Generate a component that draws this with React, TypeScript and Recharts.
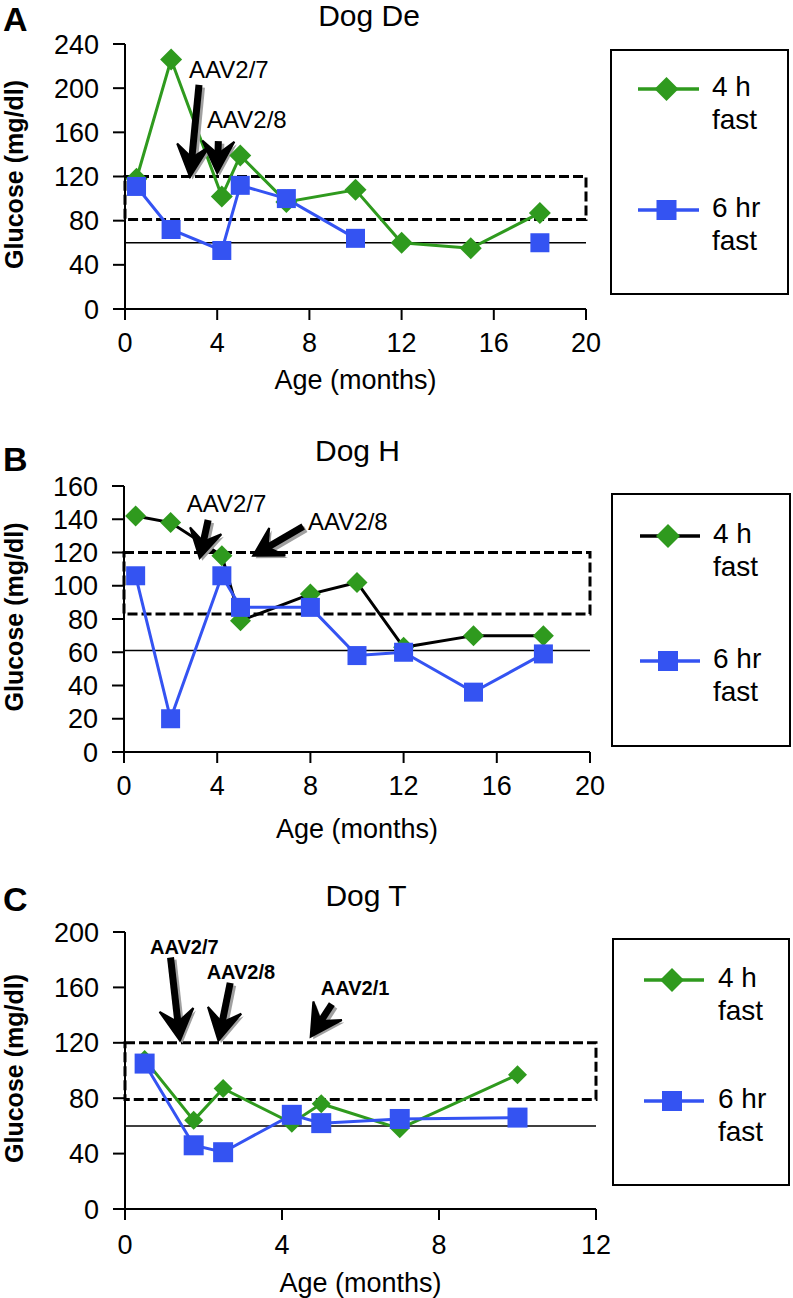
import React from 'react';
import {
  LineChart,
  Line,
  XAxis,
  YAxis,
  ReferenceLine,
  ReferenceArea,
  ReferenceDot,
  Legend,
  Label,
} from 'recharts';

const GREEN = '#2f9a1e';
const BLUE = '#3453f2';
const FONT = '"Liberation Sans", Arial, Helvetica, sans-serif';

// ---------- Panel A: Dog De ----------
const agesA = [0.5, 2, 4.2, 5, 7, 10, 12, 15, 18];
const fast4hA = [118, 226, 102, 139, 97, 108, 60, 55, 87];
const fast6hA: (number | null)[] = [111, 72, 53, 112, 100, 64, null, null, 60];
const xTicksA = [0, 4, 8, 12, 16, 20];
const yTicksA = [0, 40, 80, 120, 160, 200, 240];
const bandA = [81, 120];
const hypoA = 60;
const arrowsA = [
  { label: 'AAV2/7', tail: [3.21, 203], head: [2.82, 119.6], text: [2.78, 209] },
  { label: 'AAV2/8', tail: [4.05, 152], head: [4.0, 123], text: [3.56, 164] },
];

// ---------- Panel B: Dog H ----------
const agesB = [0.5, 2, 4.2, 5, 8, 10, 12, 15, 18];
const fast4hB = [142, 138, 118, 79, 95, 102, 63, 70, 70];
const fast6hB = [106, 20, 106, 87, 87, 58, 60, 36, 59];
const xTicksB = [0, 4, 8, 12, 16, 20];
const yTicksB = [0, 20, 40, 60, 80, 100, 120, 140, 160];
const bandB = [83, 120];
const hypoB = 61;
const arrowsB = [
  { label: 'AAV2/7', tail: [3.61, 139.6], head: [3.25, 116.6], text: [2.69, 144.6] },
  { label: 'AAV2/8', tail: [7.69, 135.6], head: [5.54, 118], text: [7.9, 133.6] },
];

// ---------- Panel C: Dog T ----------
const agesC = [0.5, 1.75, 2.5, 4.25, 5, 7, 10];
const fast4hC = [108, 64, 87, 62, 76, 58, 97];
const fast6hC = [105, 46, 41, 68, 62, 65, 66];
const xTicksC = [0, 4, 8, 12];
const yTicksC = [0, 40, 80, 120, 160, 200];
const bandC = [79, 120];
const hypoC = 60;
const arrowsC = [
  { label: 'AAV2/7', tail: [1.16, 181.6], head: [1.4, 121.5], text: [0.64, 184.4] },
  { label: 'AAV2/8', tail: [2.68, 163.3], head: [2.38, 121.5], text: [2.08, 166.4] },
  { label: 'AAV2/1', tail: [5.27, 147.9], head: [4.73, 124.4], text: [4.99, 154.4] },
];

const seriesNames = { g4: '4 h fast', b6: '6 hr fast' };

function buildRows(ages: number[], a: (number | null)[], b: (number | null)[]) {
  return ages.map((x, i) => ({ x, g4: a[i], b6: b[i] }));
}

const diamondDot = (size: number, fill: string) => (p: any) => {
  const { cx, cy, index } = p;
  if (cx == null || cy == null || Number.isNaN(cx) || Number.isNaN(cy) || p.value == null)
    return <g key={`dd${index}`} />;
  return (
    <path
      key={`dd${index}`}
      d={`M${cx},${cy - size}L${cx + size},${cy}L${cx},${cy + size}L${cx - size},${cy}Z`}
      fill={fill}
    />
  );
};

const squareDot = (size: number, fill: string) => (p: any) => {
  const { cx, cy, index } = p;
  if (cx == null || cy == null || Number.isNaN(cx) || Number.isNaN(cy) || p.value == null)
    return <g key={`sd${index}`} />;
  return <rect key={`sd${index}`} x={cx - size} y={cy - size} width={size * 2} height={size * 2} fill={fill} />;
};

function arrowGeom(x1: number, y1: number, x2: number, y2: number, L: number, W: number) {
  const dx = x2 - x1;
  const dy = y2 - y1;
  const len = Math.hypot(dx, dy) || 1;
  const ux = dx / len;
  const uy = dy / len;
  const nx = -uy;
  const ny = ux;
  const bx = x2 - ux * L;
  const by = y2 - uy * L;
  const mx = x2 - ux * L * 0.6;
  const my = y2 - uy * L * 0.6;
  const head = `M${x2},${y2}L${bx + nx * W},${by + ny * W}L${mx},${my}L${bx - nx * W},${by - ny * W}Z`;
  return { head, mx, my };
}

const arrowShape = (L: number, W: number, sw: number) => (p: any) => {
  const x1 = Number(p.x1);
  const y1 = Number(p.y1);
  const x2 = Number(p.x2);
  const y2 = Number(p.y2);
  const g = arrowGeom(x1, y1, x2, y2, L, W);
  return (
    <g>
      <g transform="translate(2.5,2.5)">
        <line x1={x1} y1={y1} x2={g.mx} y2={g.my} stroke="#a0a0a0" strokeWidth={sw} />
        <path d={g.head} fill="#a0a0a0" />
      </g>
      <line x1={x1} y1={y1} x2={g.mx} y2={g.my} stroke="#000" strokeWidth={sw} />
      <path d={g.head} fill="#000" stroke="#000" strokeWidth={2} strokeLinejoin="miter" />
    </g>
  );
};

type PanelCfg = {
  top: number;
  height: number;
  margin: { top: number; right: number; bottom: number; left: number };
  xDomain: [number, number];
  xTicks: number[];
  yDomain: [number, number];
  yTicks: number[];
  rows: any[];
  band: number[];
  hypo: number;
  line4Color: string;
  arrows: { label: string; tail: number[]; head: number[]; text: number[] }[];
  arrowFont: number;
  arrowBold: boolean;
  arrowSize: [number, number, number];
  diamond: number;
  square: number;
  xTickMargin: number;
  xAxisHeight: number;
  xLabelDy: number;
  title: string;
  titleCenter: number;
  titleTop: number;
  letter: string;
  letterTop: number;
  legend: { left: number; top: number; width: number; height: number; rows: number[]; lx1: number; lx2: number; tx: number };
};

const panels: PanelCfg[] = [
  {
    top: 0,
    height: 420,
    margin: { top: 44, right: 207, bottom: 21, left: 8 },
    xDomain: [0, 20],
    xTicks: xTicksA,
    yDomain: [0, 240],
    yTicks: yTicksA,
    rows: buildRows(agesA, fast4hA, fast6hA),
    band: bandA,
    hypo: hypoA,
    line4Color: GREEN,
    arrows: arrowsA,
    arrowFont: 24,
    arrowBold: false,
    arrowSize: [32, 16, 7],
    diamond: 11,
    square: 9.5,
    xTickMargin: 13,
    xAxisHeight: 90,
    xLabelDy: 80,
    title: 'Dog De',
    titleCenter: 369,
    titleTop: 1,
    letter: 'A',
    letterTop: 2.3,
    legend: { left: 610, top: 49, width: 179, height: 246, rows: [40, 161], lx1: 26, lx2: 87, tx: 102 },
  },
  {
    top: 430,
    height: 420,
    margin: { top: 56, right: 203, bottom: 8, left: 7 },
    xDomain: [0, 20],
    xTicks: xTicksB,
    yDomain: [0, 160],
    yTicks: yTicksB,
    rows: buildRows(agesB, fast4hB, fast6hB),
    band: bandB,
    hypo: hypoB,
    line4Color: '#000000',
    arrows: arrowsB,
    arrowFont: 24,
    arrowBold: false,
    arrowSize: [28, 16, 7],
    diamond: 10.5,
    square: 9.5,
    xTickMargin: 13,
    xAxisHeight: 90,
    xLabelDy: 86,
    title: 'Dog H',
    titleCenter: 357.5,
    titleTop: 436,
    letter: 'B',
    letterTop: 442.3,
    legend: { left: 611, top: 63, width: 180, height: 254, rows: [43, 168], lx1: 27, lx2: 87, tx: 102 },
  },
  {
    top: 860,
    height: 438,
    margin: { top: 72, right: 197, bottom: 4, left: 8 },
    xDomain: [0, 12],
    xTicks: xTicksC,
    yDomain: [0, 200],
    yTicks: yTicksC,
    rows: buildRows(agesC, fast4hC, fast6hC),
    band: bandC,
    hypo: hypoC,
    line4Color: GREEN,
    arrows: arrowsC,
    arrowFont: 20,
    arrowBold: true,
    arrowSize: [31, 17, 7],
    diamond: 9.5,
    square: 10,
    xTickMargin: 15,
    xAxisHeight: 85,
    xLabelDy: 83,
    title: 'Dog T',
    titleCenter: 366,
    titleTop: 881,
    letter: 'C',
    letterTop: 882.3,
    legend: { left: 612, top: 78, width: 178, height: 248, rows: [42, 163], lx1: 30, lx2: 90, tx: 106 },
  },
];

const markerFor: Record<string, { kind: 'diamond' | 'square'; fill: string }> = {
  g4: { kind: 'diamond', fill: GREEN },
  b6: { kind: 'square', fill: BLUE },
};

function makeLegend(cfg: PanelCfg) {
  return (props: any) => {
    const payload = props.payload || [];
    const L = cfg.legend;
    return (
      <div
        style={{
          position: 'relative',
          width: L.width,
          height: L.height,
          border: '2px solid #000',
          boxSizing: 'border-box',
          background: '#fff',
          fontFamily: FONT,
        }}
      >
        {payload.map((entry: any, i: number) => {
          const mk = markerFor[entry.dataKey] || { kind: 'square', fill: entry.color };
          const cy = L.rows[i] - 2;
          const cx = (L.lx1 + L.lx2) / 2 - 2;
          const w = L.lx2 - L.lx1 + 4;
          return (
            <React.Fragment key={String(entry.dataKey)}>
              <svg
                width={w}
                height={30}
                style={{ position: 'absolute', left: L.lx1 - 2, top: cy - 15, overflow: 'visible' }}
              >
                <line x1={2} y1={15} x2={w - 2} y2={15} stroke={entry.color} strokeWidth={3.5} />
                {mk.kind === 'diamond' ? (
                  <path d={`M${cx - L.lx1 + 2},3L${cx - L.lx1 + 14},15L${cx - L.lx1 + 2},27L${cx - L.lx1 - 10},15Z`} fill={mk.fill} />
                ) : (
                  <rect x={cx - L.lx1 + 2 - 10} y={5} width={20} height={20} fill={mk.fill} />
                )}
              </svg>
              <div
                style={{
                  position: 'absolute',
                  left: L.tx - 2,
                  top: cy - 2 - 17,
                  width: 62,
                  fontSize: 28,
                  lineHeight: '33px',
                  color: '#000',
                }}
              >
                {entry.value}
              </div>
            </React.Fragment>
          );
        })}
      </div>
    );
  };
}

function Panel({ cfg }: { cfg: PanelCfg }) {
  const [aL, aW, aSW] = cfg.arrowSize;
  return (
    <>
      <div
        style={{
          position: 'absolute',
          left: 3,
          top: cfg.letterTop,
          fontSize: 34,
          lineHeight: '34px',
          fontWeight: 'bold',
          fontFamily: FONT,
        }}
      >
        {cfg.letter}
      </div>
      <div
        style={{
          position: 'absolute',
          left: cfg.titleCenter - 150,
          width: 300,
          textAlign: 'center',
          top: cfg.titleTop,
          fontSize: 30,
          lineHeight: '30px',
          fontFamily: FONT,
        }}
      >
        {cfg.title}
      </div>
      <div style={{ position: 'absolute', left: 0, top: cfg.top }}>
        <LineChart width={793} height={cfg.height} data={cfg.rows} margin={cfg.margin}>
          <XAxis
            dataKey="x"
            type="number"
            domain={cfg.xDomain}
            ticks={cfg.xTicks}
            allowDataOverflow
            interval={0}
            tickSize={11}
            tickMargin={cfg.xTickMargin}
            height={cfg.xAxisHeight}
            tick={{ fill: '#000', fontSize: 27, fontFamily: FONT }}
            axisLine={{ stroke: '#000', strokeWidth: 2 }}
            tickLine={{ stroke: '#000', strokeWidth: 2 }}
          >
            <Label
              content={(p: any) => {
                const vb = p.viewBox || {};
                const x = (vb.x || 0) + (vb.width || 0) / 2;
                const y = (vb.y || 0) + cfg.xLabelDy;
                return (
                  <text x={x} y={y} textAnchor="middle" fontSize={27} fontFamily={FONT} fill="#000">
                    Age (months)
                  </text>
                );
              }}
            />
          </XAxis>
          <XAxis
            xAxisId="top"
            orientation="top"
            type="number"
            domain={cfg.xDomain}
            tick={false}
            tickLine={false}
            height={0}
            axisLine={{ stroke: '#000', strokeWidth: 2 }}
          />
          <YAxis
            type="number"
            domain={cfg.yDomain}
            ticks={cfg.yTicks}
            interval={0}
            width={117}
            tickSize={12}
            tickMargin={14}
            tick={{ fill: '#000', fontSize: 27, fontFamily: FONT }}
            axisLine={{ stroke: '#000', strokeWidth: 2 }}
            tickLine={{ stroke: '#000', strokeWidth: 2 }}
          >
            <Label
              content={(p: any) => {
                const vb = p.viewBox || {};
                const cx = 14;
                const cy = (vb.y || 0) + (vb.height || 0) / 2 - 2;
                return (
                  <text
                    x={cx}
                    y={cy}
                    transform={`rotate(-90 ${cx} ${cy})`}
                    textAnchor="middle"
                    dominantBaseline="central"
                    fontSize={25}
                    fontWeight="bold"
                    fontFamily={FONT}
                    fill="#000"
                  >
                    Glucose (mg/dl)
                  </text>
                );
              }}
            />
          </YAxis>
          <YAxis
            yAxisId="right"
            orientation="right"
            type="number"
            domain={cfg.yDomain}
            tick={false}
            tickLine={false}
            width={0}
            axisLine={{ stroke: '#000', strokeWidth: 2 }}
          />
          <ReferenceArea
            x1={cfg.xDomain[0]}
            x2={cfg.xDomain[1]}
            y1={cfg.band[0]}
            y2={cfg.band[1]}
            fill="none"
            fillOpacity={0}
            stroke="#000"
            strokeWidth={3}
            strokeDasharray="10 4"
            ifOverflow="visible"
          />
          <ReferenceLine y={cfg.hypo} stroke="#000" strokeWidth={1.5} />
          <Line
            dataKey="g4"
            name={seriesNames.g4}
            type="linear"
            stroke={cfg.line4Color}
            strokeWidth={3}
            dot={diamondDot(cfg.diamond, GREEN)}
            activeDot={false}
            isAnimationActive={false}
            connectNulls={false}
          />
          <Line
            dataKey="b6"
            name={seriesNames.b6}
            type="linear"
            stroke={BLUE}
            strokeWidth={3}
            dot={squareDot(cfg.square, BLUE)}
            activeDot={false}
            isAnimationActive={false}
            connectNulls={false}
          />
          {cfg.arrows.map((a) => (
            <ReferenceLine
              key={`arr-${a.label}`}
              segment={[
                { x: a.tail[0], y: a.tail[1] },
                { x: a.head[0], y: a.head[1] },
              ]}
              ifOverflow="visible"
              shape={arrowShape(aL, aW, aSW)}
            />
          ))}
          {cfg.arrows.map((a) => (
            <ReferenceDot
              key={`txt-${a.label}`}
              x={a.text[0]}
              y={a.text[1]}
              r={0}
              ifOverflow="visible"
              shape={(p: any) => (
                <text
                  x={p.cx}
                  y={p.cy}
                  fontSize={cfg.arrowFont}
                  fontWeight={cfg.arrowBold ? 'bold' : 'normal'}
                  fontFamily={FONT}
                  fill="#000"
                >
                  {a.label}
                </text>
              )}
            />
          ))}
          <Legend
            layout="vertical"
            align="center"
            verticalAlign="middle"
            content={makeLegend(cfg)}
            wrapperStyle={{
              left: cfg.legend.left,
              top: cfg.legend.top,
              width: cfg.legend.width,
              height: cfg.legend.height,
            }}
          />
        </LineChart>
      </div>
    </>
  );
}

export default function App() {
  return (
    <div
      style={{
        position: 'absolute',
        left: 0,
        top: 0,
        width: 793,
        height: 1298,
        background: '#fff',
        overflow: 'hidden',
        fontFamily: FONT,
        color: '#000',
      }}
    >
      {panels.map((cfg) => (
        <Panel key={cfg.letter} cfg={cfg} />
      ))}
    </div>
  );
}
